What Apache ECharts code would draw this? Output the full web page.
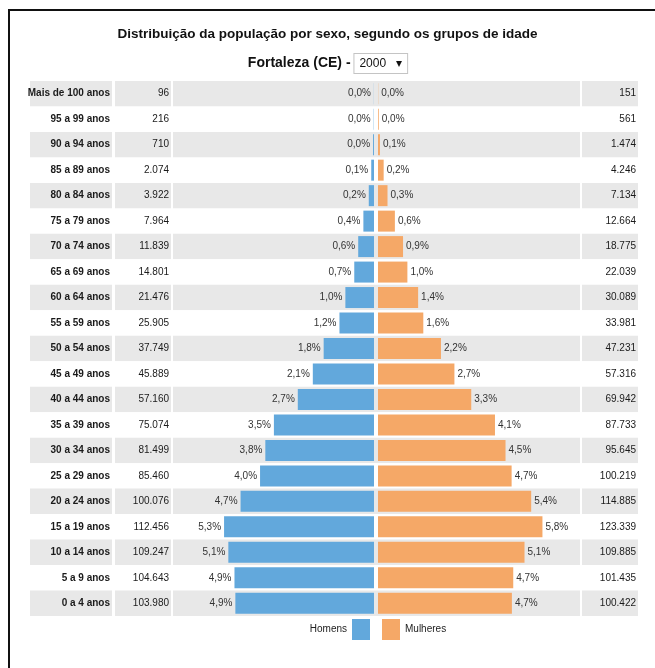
<!DOCTYPE html>
<html>
<head>
<meta charset="utf-8">
<script src="https://cdn.jsdelivr.net/npm/echarts@6/dist/echarts.min.js"></script>
<style>
html, body { margin: 0; padding: 0; background: #fff; }
#main { width: 655px; height: 668px; }
</style>
</head>
<body>
<div id="main"></div>
<script>
var ageGroups = ['Mais de 100 anos', '95 a 99 anos', '90 a 94 anos', '85 a 89 anos', '80 a 84 anos',
  '75 a 79 anos', '70 a 74 anos', '65 a 69 anos', '60 a 64 anos', '55 a 59 anos', '50 a 54 anos',
  '45 a 49 anos', '40 a 44 anos', '35 a 39 anos', '30 a 34 anos', '25 a 29 anos', '20 a 24 anos',
  '15 a 19 anos', '10 a 14 anos', '5 a 9 anos', '0 a 4 anos']
var homens = [96, 216, 710, 2074, 3922, 7964, 11839, 14801, 21476, 25905, 37749,
  45889, 57160, 75074, 81499, 85460, 100076, 112456, 109247, 104643, 103980]
var mulheres = [151, 561, 1474, 4246, 7134, 12664, 18775, 22039, 30089, 33981, 47231,
  57316, 69942, 87733, 95645, 100219, 114885, 123339, 109885, 101435, 100422]
var anos = ['2000']

var FONT = "'Liberation Sans', Arial, sans-serif"
var BLUE = '#62a8dc'
var ORANGE = '#f5a867'
var BAND = ['#e8e8e8', '#ffffff']

var total = 0
homens.forEach(function (v) { total += v })
mulheres.forEach(function (v) { total += v })

function fmtCount(v) {
  return String(v).replace(/\B(?=(\d{3})+(?!\d))/g, '.')
}
function fmtPct(v) {
  return (v / total * 100).toFixed(1).replace('.', ',') + '%'
}

var top0 = 81
var rowsH = 535
function grid(left, width) {
  return { left: left, width: width, top: top0, height: rowsH }
}

// column grids: labels | men counts | chart background | women counts | men bars | women bars
var grids = [grid(30, 82), grid(115, 56), grid(173, 407), grid(582, 56), grid(174, 200), grid(378, 200)]

function hiddenX(i) {
  return { type: 'value', gridIndex: i, show: false, min: 0, max: 1 }
}
function tableY(i, formatter, bold) {
  return {
    type: 'category', gridIndex: i, inverse: true, data: ageGroups, position: 'right',
    axisLine: { show: false }, axisTick: { show: false },
    axisLabel: {
      show: !!formatter, inside: true, margin: 2, fontFamily: FONT, fontSize: 10,
      fontWeight: bold ? 'bold' : 'normal', color: '#1a1a1a', formatter: formatter
    },
    splitLine: { show: false },
    splitArea: { show: true, areaStyle: { color: BAND } }
  }
}

var chart = echarts.init(document.getElementById('main'))
chart.setOption({
  animation: false,
  backgroundColor: '#fff',
  textStyle: { fontFamily: FONT },
  graphic: [{
    type: 'rect', silent: true,
    shape: { x: 9, y: 10, width: 700, height: 700 },
    style: { fill: null, stroke: '#111', lineWidth: 2 }
  }],
  title: [{
    text: 'Distribuição da população por sexo, segundo os grupos de idade',
    left: 'center', top: 22,
    textStyle: { fontFamily: FONT, fontSize: 13.5, fontWeight: 'bold', color: '#111' }
  }, {
    text: 'Fortaleza (CE) - {box|' + anos[0] + '   \u25BE}',
    left: 'center', top: 49,
    textStyle: {
      fontFamily: FONT, fontSize: 14, fontWeight: 'bold', color: '#111',
      rich: {
        box: {
          fontFamily: FONT, fontSize: 12, fontWeight: 'normal', color: '#111',
          borderColor: '#c4c4c4', borderWidth: 1, padding: [4, 5, 3, 5], backgroundColor: '#fff'
        }
      }
    }
  }],
  legend: [{
    data: ['Homens'], right: 285, top: 619, padding: 0, align: 'right', icon: 'rect',
    itemWidth: 18, itemHeight: 21, selectedMode: false,
    textStyle: { fontFamily: FONT, fontSize: 10, color: '#222' }
  }, {
    data: ['Mulheres'], left: 382, top: 619, padding: 0, align: 'left', icon: 'rect',
    itemWidth: 18, itemHeight: 21, selectedMode: false,
    textStyle: { fontFamily: FONT, fontSize: 10, color: '#222' }
  }],
  grid: grids,
  xAxis: [
    hiddenX(0), hiddenX(1), hiddenX(2), hiddenX(3),
    { type: 'value', gridIndex: 4, show: false, inverse: true, min: 0, max: 150000 },
    { type: 'value', gridIndex: 5, show: false, min: 0, max: 150000 }
  ],
  yAxis: [
    tableY(0, function (v) { return v }, true),
    tableY(1, function (v, i) { return fmtCount(homens[i]) }, false),
    tableY(2, null, false),
    tableY(3, function (v, i) { return fmtCount(mulheres[i]) }, false),
    { type: 'category', gridIndex: 4, inverse: true, data: ageGroups, show: false },
    { type: 'category', gridIndex: 5, inverse: true, data: ageGroups, show: false }
  ],
  series: [{
    name: 'Homens', type: 'bar', xAxisIndex: 4, yAxisIndex: 4, data: homens,
    barWidth: 21, itemStyle: { color: BLUE },
    label: {
      show: true, position: 'left', distance: 3, fontFamily: FONT, fontSize: 10, color: '#333',
      formatter: function (p) { return fmtPct(p.value) }
    }
  }, {
    name: 'Mulheres', type: 'bar', xAxisIndex: 5, yAxisIndex: 5, data: mulheres,
    barWidth: 21, itemStyle: { color: ORANGE },
    label: {
      show: true, position: 'right', distance: 3, fontFamily: FONT, fontSize: 10, color: '#333',
      formatter: function (p) { return fmtPct(p.value) }
    }
  }]
})
</script>
</body>
</html>
